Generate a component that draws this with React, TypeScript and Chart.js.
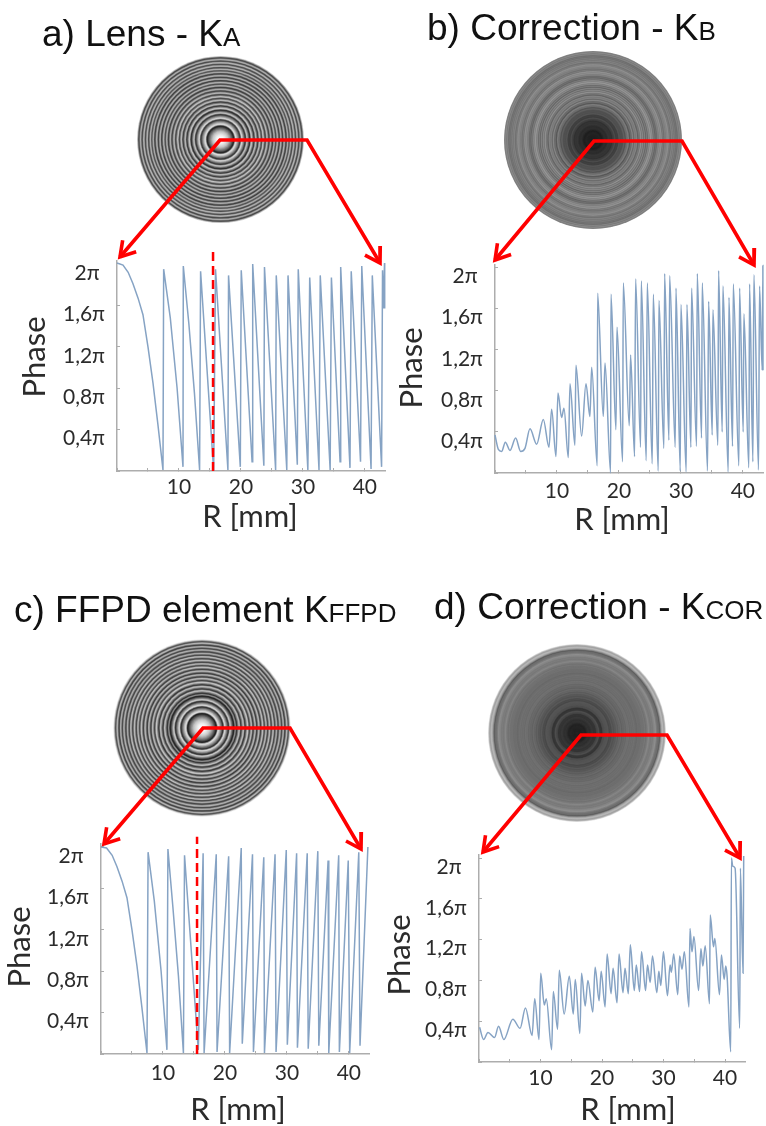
import React, { useEffect, useRef } from "react";
import { Chart, registerables } from "chart.js";

Chart.register(...registerables);

const xTickValues = [0, 5, 10, 15, 20, 25, 30, 35, 40];
const yTickValues = [0, 0.4, 0.8, 1.2, 1.6, 2];
const yTickLabels = ["", "0,4π", "0,8π", "1,2π", "1,6π", "2π\u00a0"];
const xAxisTitle = "R [mm]";
const yAxisTitle = "Phase";

const lensR = [0, 0.97, 1.8, 2.58, 3.4, 4.19, 5.0, 5.81, 6.6, 7.42, 7.53, 8.6, 9.7, 10.65, 10.7, 11.6, 12.5, 13.33, 13.49, 15.6, 15.9, 17.9, 18.0, 19.9, 20.05, 21.8, 21.9, 23.7, 23.8, 25.6, 25.7, 27.4, 27.6, 29.1, 29.25, 30.8, 31.1, 32.6, 32.8, 34.4, 34.6, 36.0, 36.1, 37.6, 37.8, 39.3, 39.5, 41.0, 41.2, 42.7, 42.85, 43.0, 43.17, 43.2];
const lensPhase = [2.01, 1.99, 1.92, 1.81, 1.67, 1.51, 1.2, 0.85, 0.45, 0.01, 1.95, 1.48, 0.8, 0.04, 1.98, 1.42, 0.75, 0.01, 1.93, 0, 1.95, 0.01, 1.89, 0.04, 1.94, 0.09, 2.0, 0.05, 1.97, 0.01, 1.89, 0.01, 1.89, 0.06, 1.95, 0.01, 1.87, 0.01, 1.89, 0.01, 1.87, 0.09, 1.97, 0.03, 1.93, 0.09, 1.98, 0.02, 1.89, 0.04, 1.94, 1.57, 2.01, 1.57];

const correctionBR = [0, 0.54, 1.08, 1.67, 2.42, 3.33, 4.14, 4.84, 5.65, 6.72, 7.8, 8.71, 9.14, 9.84, 10.16, 10.75, 11.13, 11.83, 12.1, 12.9, 13.06, 13.98, 14.68, 15.32, 15.6, 16.5, 16.56, 17.48, 17.75, 18.66, 18.71, 19.52, 19.68, 20.6, 20.7, 21.67, 21.88, 22.53, 22.69, 23.5, 23.6, 24.41, 24.57, 25.38, 25.54, 26.35, 26.45, 27.26, 27.37, 28.07, 28.18, 29.09, 29.2, 29.9, 30.0, 30.86, 30.97, 31.62, 31.72, 32.53, 32.64, 33.34, 33.44, 34.3, 34.47, 35.06, 35.16, 35.97, 36.08, 36.67, 36.78, 37.64, 37.75, 38.34, 38.45, 39.36, 39.47, 40.06, 40.16, 40.97, 41.08, 41.62, 41.78, 42.53, 42.69, 43.12, 43.23, 43.25];
const correctionBPhase = [0.37, 0.23, 0.21, 0.3, 0.22, 0.34, 0.21, 0.24, 0.43, 0.28, 0.52, 0.25, 0.62, 0.16, 0.78, 0.54, 0.63, 0.15, 0.87, 0.27, 1.05, 0.36, 0.87, 0.55, 1.03, 0.07, 1.75, 0.55, 1.07, 0, 1.74, 0.42, 1.42, 0.11, 1.85, 0.46, 1.15, 0.16, 1.89, 0.25, 1.87, 0.12, 1.85, 0.09, 1.74, 0.02, 1.68, 0.24, 1.94, 0.32, 1.92, 0.25, 1.8, 0.02, 1.64, 0.01, 1.64, 0.25, 1.8, 0.26, 1.94, 0.34, 1.85, 0.02, 1.67, 0.37, 1.59, 0.27, 1.97, 0.4, 1.82, 0.01, 1.71, 0.26, 1.84, 0.07, 1.8, 0.4, 1.55, 0.05, 1.84, 0.11, 1.93, 0.03, 1.82, 1.0, 2.02, 1.0];

const ffpdR = [0, 0.9, 1.8, 2.58, 3.4, 4.19, 5.0, 5.81, 6.6, 7.42, 7.6, 8.6, 9.7, 10.64, 10.8, 11.6, 12.5, 13.3, 13.48, 15.7, 16.48, 16.64, 18.6, 18.73, 20.6, 20.76, 22.63, 22.8, 24.45, 24.6, 26.27, 26.38, 28.09, 28.25, 29.9, 30.07, 31.57, 31.7, 33.28, 33.44, 34.99, 35.15, 36.65, 36.76, 38.36, 38.47, 39.9, 40.13, 41.6, 41.8, 43.07];
const ffpdPhase = [2.0, 1.99, 1.92, 1.81, 1.67, 1.51, 1.2, 0.85, 0.45, 0.01, 1.95, 1.48, 0.8, 0.04, 1.98, 1.42, 0.75, 0.01, 1.92, 0.04, 1.94, 0.01, 1.93, 0.02, 1.91, 0.01, 1.99, 0.1, 1.93, 0.02, 1.9, 0.01, 1.93, 0.02, 1.97, 0.09, 1.94, 0.06, 1.94, 0.05, 1.96, 0.08, 1.87, 0.01, 1.92, 0.02, 1.87, 0.01, 1.95, 0.08, 2.0];

const correctionCorR = [0.1, 0.75, 1.46, 2.53, 3.18, 4.04, 5.5, 6.68, 7.55, 8.63, 9.06, 9.76, 10.03, 10.62, 10.94, 11.81, 12.08, 12.78, 13.05, 13.85, 14.68, 15.33, 15.65, 16.4, 16.67, 17.27, 17.7, 18.51, 18.88, 19.53, 19.86, 20.5, 20.83, 21.47, 21.8, 22.44, 22.77, 23.41, 23.74, 24.28, 24.6, 25.25, 25.57, 26.11, 26.43, 27.08, 27.4, 27.83, 28.21, 28.91, 29.24, 29.56, 29.99, 30.64, 31.07, 31.28, 31.66, 32.31, 32.63, 33.01, 33.39, 34.14, 34.3, 34.63, 34.95, 35.7, 36.08, 36.4, 36.78, 37.48, 37.59, 38.13, 38.35, 39.1, 39.42, 39.86, 40.12, 40.34, 40.93, 41.04, 41.26, 41.64, 42.39, 42.5, 42.93, 43.04];
const correctionCorPhase = [0.34, 0.22, 0.29, 0.24, 0.35, 0.22, 0.42, 0.33, 0.53, 0.26, 0.62, 0.22, 0.87, 0.56, 0.62, 0.12, 0.69, 0.32, 0.9, 0.47, 0.84, 0.47, 0.81, 0.28, 0.87, 0.55, 0.8, 0.49, 0.93, 0.6, 0.89, 0.54, 1.06, 0.67, 0.92, 0.58, 1.06, 0.68, 0.92, 0.67, 1.15, 0.7, 0.95, 0.69, 1.08, 0.7, 0.95, 0.78, 1.04, 0.68, 0.89, 0.75, 1.08, 0.65, 0.95, 0.88, 1.06, 0.66, 1.04, 0.91, 1.08, 0.54, 1.31, 1.08, 1.23, 0.7, 1.11, 0.94, 1.14, 0.57, 1.44, 1.13, 1.21, 0.66, 1.05, 0.81, 0.94, 0.84, 0.1, 2.0, 1.92, 1.9, 0.33, 1.9, 0.87, 2.02];

const dashR = [15.5, 15.5];

type Pt = [number, number];
const panels = [
  { head: "a) Lens - K", sub: "A", hx: 42, hy: 12, R: lensR, P: lensPhase, dashTop: 2.15, smooth: false, win: 1.5,
    box: [0, 240, 390, 295], L: 117, Rt: 385, B: 471, U: 103.5, xPad: 7, rT: [250, 517], pT: [35, 357],
    disc: [220.5, 139.5, 83.5], V: [220, 140] as Pt, Bd: [307, 140] as Pt, tl: [120, 257] as Pt, tr: [380, 263] as Pt },
  { head: "b) Correction - K", sub: "B", hx: 427, hy: 6, R: correctionBR, P: correctionBPhase, dashTop: 0, smooth: true, win: 3,
    box: [388, 240, 378, 295], L: 495, Rt: 763, B: 473, U: 102.7, xPad: 9, rT: [622, 520], pT: [412, 368],
    disc: [593, 140, 89], V: [594, 141] as Pt, Bd: [682, 141] as Pt, tl: [495, 260] as Pt, tr: [754, 265] as Pt },
  { head: "c) FFPD element K", sub: "FFPD", hx: 14, hy: 588, R: ffpdR, P: ffpdPhase, dashTop: 2.1, smooth: false, win: 1.5,
    box: [0, 825, 378, 301], L: 101, Rt: 369, B: 1054, U: 103.5, xPad: 10, rT: [238, 1110], pT: [20, 947],
    disc: [202, 728, 89], V: [203, 728] as Pt, Bd: [290, 728] as Pt, tl: [104, 844] as Pt, tr: [361, 849] as Pt },
  { head: "d) Correction - K", sub: "COR", hx: 434, hy: 585, R: correctionCorR, P: correctionCorPhase, dashTop: 0, smooth: true, win: 3,
    box: [384, 840, 382, 286], L: 479, Rt: 745, B: 1062, U: 102, xPad: 7, rT: [628, 1110], pT: [400, 955],
    disc: [577, 733, 89], V: [581, 735] as Pt, Bd: [667, 735] as Pt, tl: [483, 852] as Pt, tr: [740, 858] as Pt },
];

const Y_MAX = 2.03;
const X_MAX = 43.25;
const AXIS = "#adadad";
const TEXT = "#2b2b2b";
const TICK_FONT = { family: "Lato", size: 21 };
const TITLE_FONT = { family: "Lato", size: 31, lineHeight: 1.2 };
const LINE = "#86a3c4";
const RED = "#ff0000";

function phaseAt(R: number[], P: number[], r: number) {
  if (r <= R[0]) return P[0];
  for (let i = 1; i < R.length; i++) {
    if (r <= R[i]) {
      const span = R[i] - R[i - 1] || 1;
      return P[i - 1] + ((P[i] - P[i - 1]) * (r - R[i - 1])) / span;
    }
  }
  return P[P.length - 1];
}

function discRings(p: (typeof panels)[number]) {
  const [cx, cy, rad] = p.disc;
  const data: { x: number; y: number; r: number }[] = [];
  const colors: string[] = [];
  const samples = 12;
  for (let r = rad; r > 0; r -= 0.5) {
    let sum = 0;
    for (let k = 0; k < samples; k++) {
      const at = Math.max(0, r - p.win / 2 + (k * p.win) / samples);
      sum += phaseAt(p.R, p.P, (Math.min(at, rad) / rad) * X_MAX);
    }
    const g = Math.round(Math.max(0, Math.min(1, sum / samples / 2)) * 255);
    data.push({ x: cx, y: cy, r });
    colors.push(`rgb(${g},${g},${g})`);
  }
  return { data, colors };
}

function arrowHead(tip: Pt, from: Pt, len = 17, spread = 0.55) {
  const a = Math.atan2(from[1] - tip[1], from[0] - tip[0]);
  return [
    { x: tip[0] + len * Math.cos(a + spread), y: tip[1] + len * Math.sin(a + spread) },
    { x: tip[0], y: tip[1] },
    { x: tip[0] + len * Math.cos(a - spread), y: tip[1] + len * Math.sin(a - spread) },
  ];
}

function plotConfig(p: (typeof panels)[number]): any {
  const [x0, y0, w, h] = p.box;
  const top = p.B - Y_MAX * p.U;
  const shift = {
    id: "titleShift",
    beforeDraw(chart: any) {
      const sx = chart.scales.x;
      const sy = chart.scales.y;
      if (sx.__shifted) return;
      sx.__shifted = true;
      const lh = TITLE_FONT.size * 1.2;
      const wrap = (s: any, dx: number, dy: number) => {
        const orig = s.drawTitle;
        s.drawTitle = function () {
          s.ctx.save();
          s.ctx.translate(dx, dy);
          orig.call(s);
          s.ctx.restore();
        };
      };
      wrap(sx, p.rT[0] - x0 - (sx.left + sx.right) / 2, p.rT[1] - y0 - (sx.bottom - lh / 2));
      wrap(sy, p.pT[0] - x0 - (sy.left + lh / 2), p.pT[1] - y0 - (sy.top + sy.bottom) / 2);
    },
  };
  const clearPad = (s: any) => {
    s.paddingLeft = s.paddingRight = s.paddingTop = s.paddingBottom = 0;
  };
  const datasets: any[] = [
    {
      type: "line",
      data: p.R.map((r, i) => ({ x: r, y: p.P[i] })),
      borderColor: LINE,
      borderWidth: 1.5,
      pointRadius: 0,
      tension: 0,
      cubicInterpolationMode: p.smooth ? "monotone" : "default",
      clip: false,
    },
  ];
  if (p.dashTop) {
    datasets.unshift({
      type: "line",
      data: dashR.map((r, i) => ({ x: r, y: i === 0 ? 0 : p.dashTop })),
      borderColor: RED,
      borderWidth: 2.5,
      borderDash: [9, 5],
      pointRadius: 0,
      clip: false,
    });
  }
  return {
    type: "line",
    data: { datasets },
    plugins: [shift],
    options: {
      responsive: false,
      animation: false,
      events: [],
      layout: { padding: { top: top - y0, right: x0 + w - p.Rt, left: 0, bottom: 0 } },
      plugins: { legend: { display: false }, tooltip: { enabled: false }, title: { display: false } },
      scales: {
        x: {
          type: "linear",
          min: 0,
          max: X_MAX,
          border: { color: AXIS, width: 1.5 },
          grid: { drawOnChartArea: false, drawTicks: true, tickLength: -3, color: AXIS },
          ticks: {
            autoSkip: false,
            maxRotation: 0,
            minRotation: 0,
            padding: p.xPad,
            color: TEXT,
            font: TICK_FONT,
            callback: (v: number) => (v > 0 && v % 10 === 0 ? String(v) : ""),
          },
          title: { display: true, text: xAxisTitle, color: TEXT, font: TITLE_FONT, padding: 0 },
          afterBuildTicks: (s: any) => {
            s.ticks = xTickValues.map((value) => ({ value }));
          },
          afterFit: (s: any) => {
            s.height = y0 + h - p.B;
            clearPad(s);
          },
        },
        y: {
          type: "linear",
          min: 0,
          max: Y_MAX,
          border: { color: AXIS, width: 1.5 },
          grid: { drawOnChartArea: false, drawTicks: true, tickLength: -3, color: AXIS },
          ticks: {
            autoSkip: false,
            padding: 15,
            labelOffset: 9,
            color: TEXT,
            font: TICK_FONT,
            callback: (v: number) => yTickLabels[yTickValues.indexOf(v)] ?? "",
          },
          title: { display: true, text: yAxisTitle, color: TEXT, font: TITLE_FONT, padding: 0 },
          afterBuildTicks: (s: any) => {
            s.ticks = yTickValues.map((value) => ({ value }));
          },
          afterFit: (s: any) => {
            s.width = p.L - x0;
            clearPad(s);
          },
        },
      },
    },
  };
}

function overlayConfig(): any {
  const datasets: any[] = [];
  panels.forEach((p, i) => {
    const path = [
      { x: p.tl[0], y: p.tl[1] },
      { x: p.V[0], y: p.V[1] },
      { x: p.Bd[0], y: p.Bd[1] },
      { x: p.tr[0], y: p.tr[1] },
    ];
    [path, arrowHead(p.tl, p.V), arrowHead(p.tr, p.Bd)].forEach((d) =>
      datasets.push({
        type: "line",
        order: 0,
        data: d,
        borderColor: RED,
        borderWidth: 3.6,
        pointRadius: 0,
        tension: 0,
        borderJoinStyle: "miter",
      })
    );
    const rings = discRings(p);
    datasets.push({
      type: "bubble",
      order: 10 + i,
      data: rings.data,
      backgroundColor: rings.colors,
      borderWidth: 0,
    });
  });
  return {
    type: "bubble",
    data: { datasets },
    options: {
      responsive: false,
      animation: false,
      events: [],
      layout: { padding: 0, autoPadding: false },
      plugins: { legend: { display: false }, tooltip: { enabled: false } },
      scales: {
        x: { type: "linear", min: 0, max: 766, display: false },
        y: { type: "linear", min: 0, max: 1126, reverse: true, display: false },
      },
    },
  };
}

export default function App() {
  const plotRefs = useRef<(HTMLCanvasElement | null)[]>([]);
  const overlayRef = useRef<HTMLCanvasElement | null>(null);

  useEffect(() => {
    const charts = panels.map((p, i) => new Chart(plotRefs.current[i] as any, plotConfig(p)));
    charts.push(new Chart(overlayRef.current as any, overlayConfig()));
    return () => charts.forEach((c) => c.destroy());
  }, []);

  return (
    <div style={{ position: "absolute", left: 0, top: 0, width: 766, height: 1126, overflow: "hidden", background: "#fff", filter: "blur(0.5px)" }}>
      {panels.map((p, i) => (
        <canvas
          key={p.head}
          ref={(el) => {
            plotRefs.current[i] = el;
          }}
          width={p.box[2]}
          height={p.box[3]}
          style={{ position: "absolute", left: p.box[0], top: p.box[1], width: p.box[2], height: p.box[3] }}
        />
      ))}
      <canvas ref={overlayRef} width={766} height={1126} style={{ position: "absolute", left: 0, top: 0, width: 766, height: 1126, pointerEvents: "none" }} />
      {panels.map((p) => (
        <div
          key={p.sub}
          style={{ position: "absolute", left: p.hx, top: p.hy, fontFamily: "'Liberation Sans', sans-serif", fontSize: 37, lineHeight: "44px", color: "#111", whiteSpace: "nowrap" }}
        >
          {p.head}
          <span style={{ fontSize: 26 }}>{p.sub}</span>
        </div>
      ))}
    </div>
  );
}
